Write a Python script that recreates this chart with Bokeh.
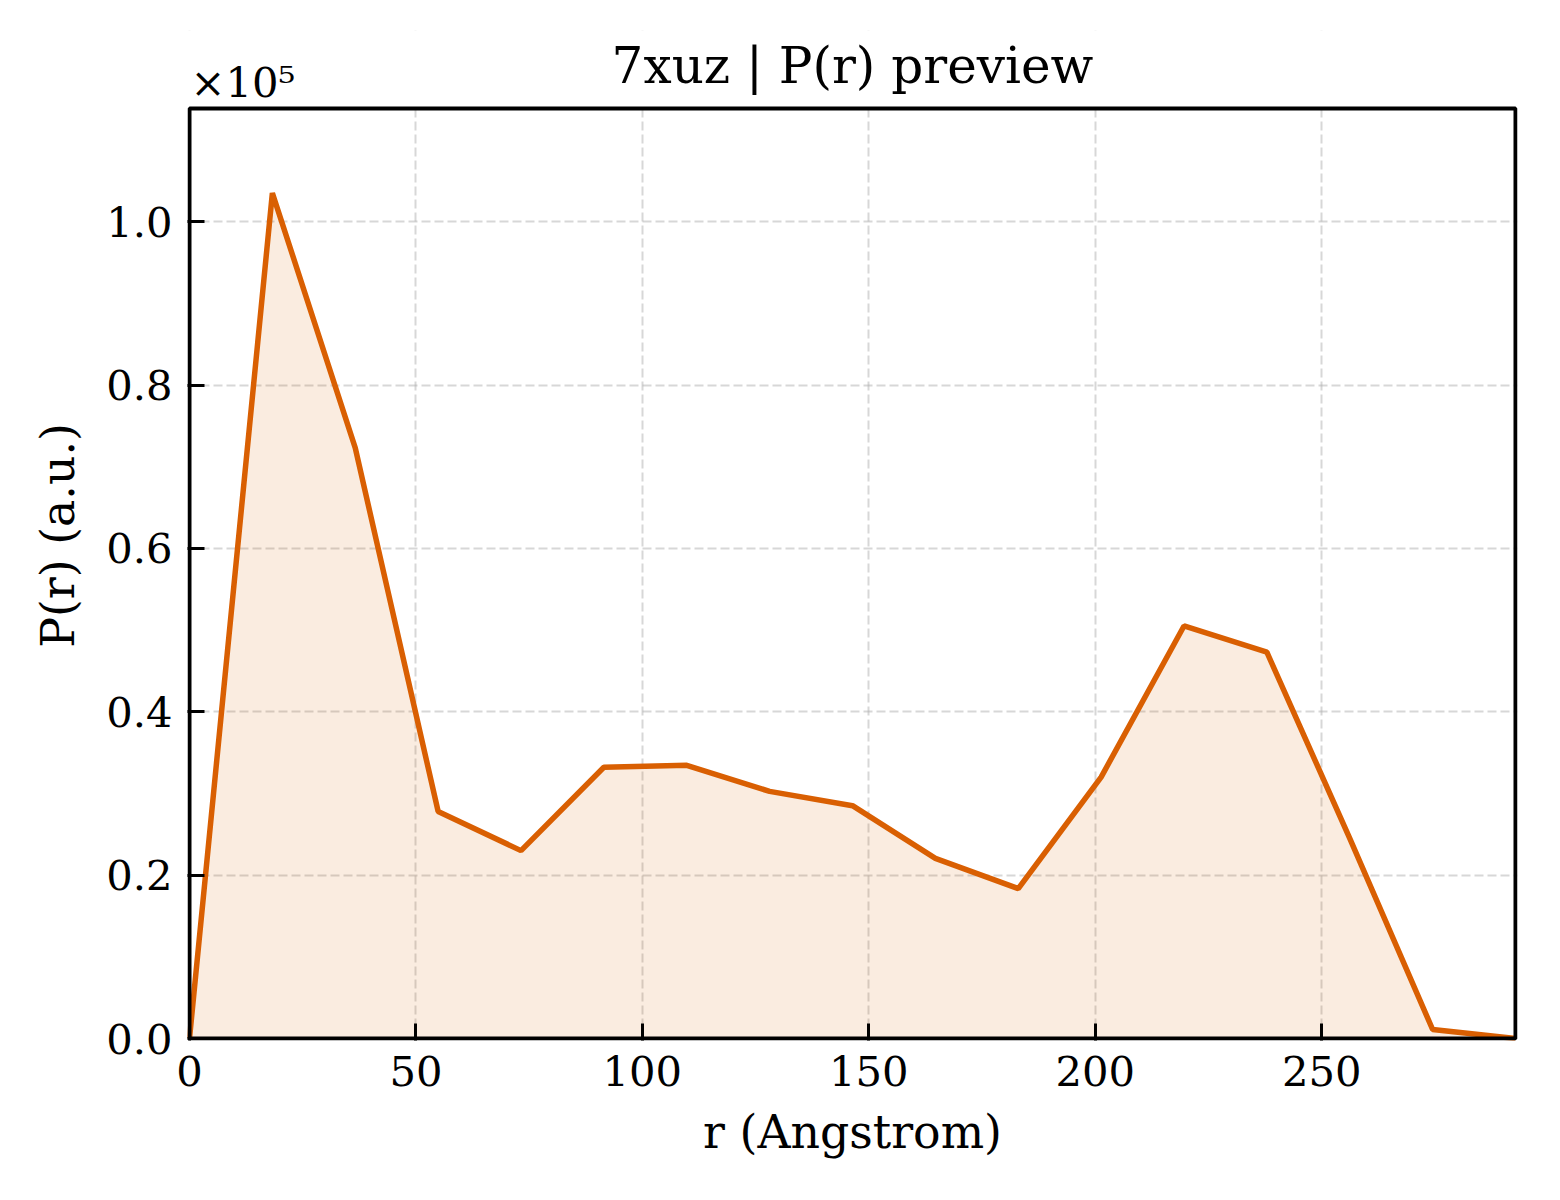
from bokeh.plotting import figure
from bokeh.models import ColumnDataSource, Range1d, FixedTicker, CustomJSTickFormatter, Label
from bokeh.embed import file_html
from bokeh.resources import INLINE

# P(r) curve
r_angstrom = [0.0, 18.3, 36.6, 54.9, 73.2, 91.5, 109.8, 128.1, 146.4, 164.7,
              183.0, 201.3, 219.6, 237.9, 256.2, 274.5, 292.8]
p_r = [0, 103500, 72300, 27800, 23000, 33200, 33450, 30250, 28500, 22050,
       18350, 32000, 50500, 47300, 24500, 1100, 0]

x_ticks = [0, 50, 100, 150, 200, 250]
y_ticks = [0, 20000, 40000, 60000, 80000, 100000]

FONT = "DejaVu Serif"
ORANGE = "#d95f02"

X_MAX = max(r_angstrom)
Y_MAX = max(p_r) * 1.1

# box in pixels, with a little room so the spines are not clipped,
# and a head strip inside the frame for the title and the offset text
BOX_W, BOX_H, PAD, HEAD = 1326, 930, 2, 78
xs = BOX_W / X_MAX
ys = BOX_H / Y_MAX
x0, x1 = -PAD / xs, X_MAX + PAD / xs
y0, y1 = -PAD / ys, Y_MAX + HEAD / ys

source = ColumnDataSource(dict(r=r_angstrom, pr=p_r))

p = figure(frame_width=BOX_W + 2 * PAD, frame_height=BOX_H + PAD + HEAD,
           min_border_left=187, min_border_right=35,
           min_border_top=30, min_border_bottom=150,
           x_range=Range1d(x0, x1), y_range=Range1d(y0, y1),
           output_backend="svg", toolbar_location=None,
           x_axis_label="r (Angstrom)", y_axis_label="P(r) (a.u.)")
p.outline_line_color = None

p.varea(x="r", y1=0, y2="pr", source=source, fill_color=ORANGE, fill_alpha=0.12)
p.line(x="r", y="pr", source=source, line_color=ORANGE, line_width=5.5)

# hide grid above the axes box, then draw the box
p.quad(left=x0, right=x1, bottom=Y_MAX, top=y1, fill_color="white", line_color=None)
p.quad(left=0, right=X_MAX, bottom=0, top=Y_MAX, fill_color=None,
       line_color="black", line_width=4)

for ax in (p.xaxis, p.yaxis):
    ax.axis_line_color = None
    ax.major_tick_in = 17
    ax.major_tick_out = 0
    ax.major_tick_line_width = 3
    ax.major_tick_line_color = "black"
    ax.minor_tick_line_color = None
    ax.major_label_text_font = FONT
    ax.major_label_text_font_size = "41.7px"
    ax.major_label_text_color = "black"
    ax.axis_label_text_font = FONT
    ax.axis_label_text_font_size = "45.8px"
    ax.axis_label_text_font_style = "normal"
    ax.axis_label_text_color = "black"
    ax.major_label_standoff = 15

p.xaxis.axis_label_standoff = 16
p.yaxis.axis_label_standoff = 18
p.xaxis.ticker = FixedTicker(ticks=x_ticks)
p.yaxis.ticker = FixedTicker(ticks=y_ticks)
p.yaxis.formatter = CustomJSTickFormatter(code="return (tick / 1e5).toFixed(1);")

p.grid.grid_line_color = "#b0b0b0"
p.grid.grid_line_width = 2
p.grid.grid_line_dash = "9 4"
p.grid.grid_line_alpha = 0.5

p.add_layout(Label(x=X_MAX / 2, y=Y_MAX + 43 / ys, text="7xuz | P(r) preview",
                   text_font=FONT, text_font_size="50px", text_align="center",
                   text_baseline="alphabetic", text_color="black"))
p.add_layout(Label(x=1 / xs, y=Y_MAX + 26 / ys, text="\u00d710\u2075",
                   text_font=FONT, text_font_size="41.7px", text_align="left",
                   text_baseline="alphabetic", text_color="black"))

open("out.html", "w").write(file_html(p, INLINE))
